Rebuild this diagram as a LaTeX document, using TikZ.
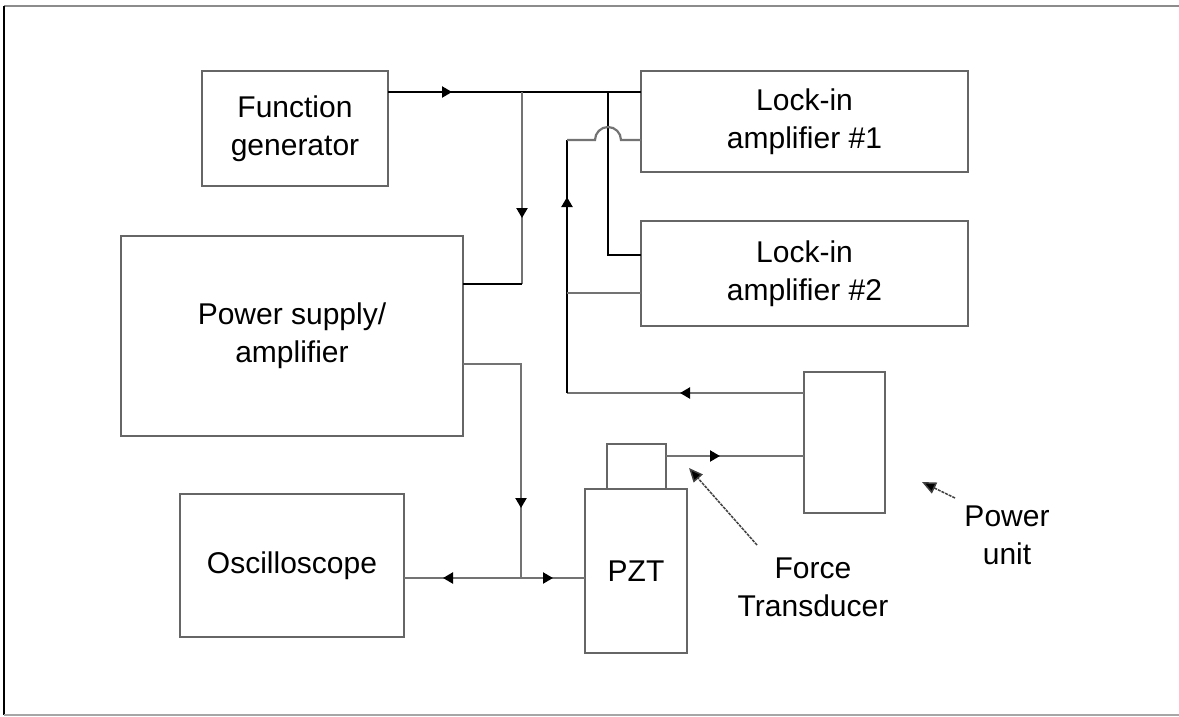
\documentclass[tikz,border=0pt]{standalone}
\usepackage{fontspec}
\setmainfont{Liberation Sans}
\usetikzlibrary{arrows.meta,positioning,calc,decorations.markings}

\tikzset{
  box/.style={draw=black!60, line width=2pt, inner sep=0pt, outer sep=0pt,
    align=center, font=\fontsize{30}{38}\selectfont},
  tag/.style={align=center, font=\fontsize{30}{38}\selectfont},
  wire/.style={line width=2.2pt, black},
  gwire/.style={line width=2.2pt, black!55},
  arrowat/.style={postaction={decorate}, decoration={markings,
    mark=at position #1 with {\arrow[black]{Triangle[length=10pt,width=11pt]}}}},
  pointer/.style={line width=1.5pt, black!75, dash pattern=on 3pt off 1pt,
    -{Triangle[length=14pt,width=12pt,fill=black]}}
}

\begin{document}
\begin{tikzpicture}[x=1pt,y=-1pt]
    \useasboundingbox (0,0) rectangle (1179,716);

    % Frame
    \draw[line width=2pt, black!45] (1179,6) -- (4,6);
    \draw[line width=2.5pt] (4,6) -- (4,715);
    \draw[line width=2pt, black!35] (4,715) -- (1179,715);

    % Boxes
    \node[box, minimum width=186pt, minimum height=115pt] (fg) at (295,128.5) {Function\\generator};
    \node[box, minimum width=342pt, minimum height=200pt] (ps) at (292,336) {Power supply/\\amplifier};
    \node[box, minimum width=224pt, minimum height=143pt] (osc) at (292,565.5) {Oscilloscope};
    \node[box, minimum width=327pt, minimum height=101pt] (li1) at (804.5,121.5) {Lock-in\\amplifier \#1};
    \node[box, minimum width=327pt, minimum height=105pt] (li2) at (804.5,273.5) {Lock-in\\amplifier \#2};
    \node[box, minimum width=81pt, minimum height=141pt] (pu) at (844.5,442.5) {};
    \node[box, minimum width=102pt, minimum height=164pt] (pzt) at (636,571) {PZT};
    \node[box, minimum width=59pt, minimum height=45pt] (ft) at (636.5,466.5) {};

    % Reference signal
    \coordinate (j1) at (522,92);
    \coordinate (j2) at (608,92);
    \coordinate (p1) at (522,284);
    \coordinate (j3) at (608,255);
    \draw[wire, arrowat=64pt] (fg.east |- j1) -- (li1.west |- j1);
    \draw[gwire, arrowat=126pt] (j1) -- (p1);
    \draw[wire] (p1) -- (ps.east |- p1);
    \draw[wire] (j2) -- (j3) -- (li2.west |- j3);

    % Return from power unit
    \coordinate (r1) at (567,393);
    \coordinate (r2) at (567,140);
    \coordinate (r3) at (567,293);
    \coordinate (hop) at (608,140);
    \draw[gwire, arrowat=124pt] (pu.west |- r1) -- (r1);
    \draw[wire, arrowat=196pt] (r1) -- (r2);
    \draw[gwire] (r2) -- ([xshift=-13pt]hop) arc[start angle=180, end angle=0, radius=13pt] -- (li1.west |- r2);
    \draw[gwire] (r3) -- (li2.west |- r3);

    % Drive to PZT and oscilloscope
    \coordinate (p2) at (521,364);
    \coordinate (j4) at (521,578);
    \draw[gwire, arrowat=202pt] (ps.east |- p2) -- (p2) -- (j4);
    \draw[gwire, arrowat=78pt] (j4) -- (osc.east |- j4);
    \draw[gwire, arrowat=32pt] (j4) -- (pzt.west |- j4);

    % Transducer to power unit
    \coordinate (f1) at ([yshift=10.5pt]ft.east);
    \draw[gwire, arrowat=54pt] (f1) -- (pu.west |- f1);

    % Labels
    \node[tag] (ftlab) at (813,587) {Force\\Transducer};
    \node[tag] (pulab) at (1007,535) {Power\\unit};
    \coordinate (fttail) at (757,545);
    \coordinate (fttip) at (689,468);
    \coordinate (putail) at (955,498);
    \coordinate (putip) at (922,482);
    \draw[pointer] (fttail) -- (fttip);
    \draw[pointer] (putail) -- (putip);
\end{tikzpicture}
\end{document}
